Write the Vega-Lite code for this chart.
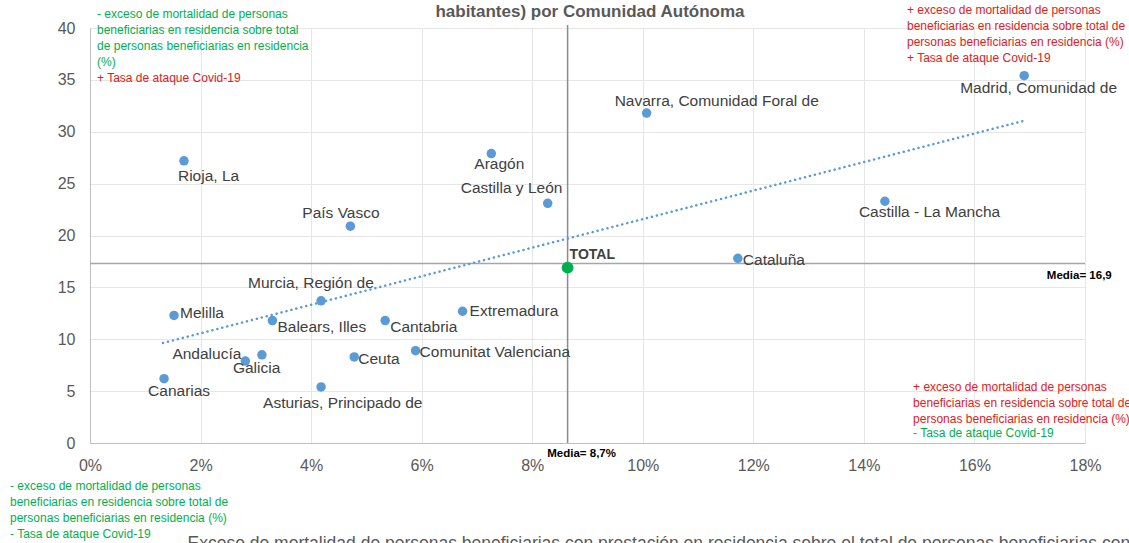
{
  "$schema": "https://vega.github.io/schema/vega-lite/v6.json",
  "autosize": "none",
  "width": 995,
  "height": 415,
  "padding": {"left": 90, "top": 28, "right": 44, "bottom": 100},
  "background": "white",
  "config": {
    "view": {"stroke": null},
    "font": "Liberation Sans",
    "axis": {
      "labelFont": "Liberation Sans",
      "labelFontSize": 16,
      "labelColor": "#595959",
      "gridColor": "#E6E6E6",
      "gridWidth": 1,
      "domainColor": "#BFBFBF",
      "ticks": false,
      "labelFlush": false
    }
  },
  "datasets": {
    "pts": [
      {"name": "Madrid, Comunidad de", "x": 0.169, "y": 35.4},
      {"name": "Navarra, Comunidad Foral de", "x": 0.1007, "y": 31.8},
      {"name": "Aragón", "x": 0.0726, "y": 27.9},
      {"name": "Rioja, La", "x": 0.017, "y": 27.2},
      {"name": "Castilla y León", "x": 0.0828, "y": 23.1},
      {"name": "Castilla - La Mancha", "x": 0.1438, "y": 23.3},
      {"name": "País Vasco", "x": 0.0471, "y": 20.9},
      {"name": "Cataluña", "x": 0.1172, "y": 17.8},
      {"name": "Murcia, Región de", "x": 0.0418, "y": 13.7},
      {"name": "Melilla", "x": 0.0152, "y": 12.3},
      {"name": "Extremadura", "x": 0.0674, "y": 12.7},
      {"name": "Balears, Illes", "x": 0.033, "y": 11.8},
      {"name": "Cantabria", "x": 0.0534, "y": 11.8},
      {"name": "Comunitat Valenciana", "x": 0.0589, "y": 8.9},
      {"name": "Andalucía", "x": 0.0281, "y": 7.9},
      {"name": "Galicia", "x": 0.0311, "y": 8.5},
      {"name": "Ceuta", "x": 0.0478, "y": 8.3},
      {"name": "Canarias", "x": 0.0134, "y": 6.2},
      {"name": "Asturias, Principado de", "x": 0.0418, "y": 5.4}
    ],
    "total": [
      {"name": "TOTAL", "x": 0.0864, "y": 16.9}
    ],
    "trend": [
      {"x": 0.0132, "y": 9.64},
      {"x": 0.1688, "y": 31.04}
    ],
    "one": [{}]
  },
  "layer": [
    {
      "data": {"name": "pts"},
      "mark": {"type": "point", "opacity": 0},
      "encoding": {
        "x": {
          "field": "x", "type": "quantitative",
          "scale": {"domain": [0, 0.18], "nice": false, "zero": false},
          "axis": {
            "values": [0, 0.02, 0.04, 0.06, 0.08, 0.1, 0.12, 0.14, 0.16, 0.18],
            "format": ".0%",
            "labelPadding": 14,
            "grid": true,
            "title": "Exceso de mortalidad de personas beneficiarias con prestación en residencia sobre el total de personas beneficiarias con prestación en residencia (%)",
            "titleFont": "Liberation Sans",
            "titleFontSize": 17.5,
            "titleFontWeight": "normal",
            "titleColor": "#595959",
            "titleAnchor": "start",
            "titleAlign": "left",
            "titleBaseline": "top",
            "titleX": 97,
            "titleY": 91
          }
        },
        "y": {
          "field": "y", "type": "quantitative",
          "scale": {"domain": [0, 40], "nice": false, "zero": false},
          "axis": {
            "values": [0, 5, 10, 15, 20, 25, 30, 35, 40],
            "labelPadding": 15,
            "grid": true,
            "title": null
          }
        }
      }
    },
    {
      "data": {"name": "one"},
      "mark": {"type": "rule", "color": "#A6A6A6", "strokeWidth": 1.5},
      "encoding": {
        "y": {"datum": 17.3, "type": "quantitative"}
      }
    },
    {
      "data": {"name": "one"},
      "mark": {"type": "rule", "color": "#8C8C8C", "strokeWidth": 1.5},
      "encoding": {
        "x": {"datum": 0.0864, "type": "quantitative"},
        "y": {"datum": 0, "type": "quantitative"},
        "y2": {"datum": 40.3}
      }
    },
    {
      "data": {"name": "trend"},
      "mark": {"type": "line", "color": "#5B9BD5", "strokeWidth": 2.5, "strokeDash": [0.1, 5], "strokeCap": "round"},
      "encoding": {
        "x": {"field": "x", "type": "quantitative"},
        "y": {"field": "y", "type": "quantitative"}
      }
    },
    {
      "data": {"name": "pts"},
      "mark": {"type": "circle", "color": "#5B9BD5", "opacity": 1, "size": 90},
      "encoding": {
        "x": {"field": "x", "type": "quantitative"},
        "y": {"field": "y", "type": "quantitative"}
      }
    },
    {
      "data": {"name": "total"},
      "mark": {"type": "circle", "color": "#00B050", "opacity": 1, "size": 140},
      "encoding": {
        "x": {"field": "x", "type": "quantitative"},
        "y": {"field": "y", "type": "quantitative"}
      }
    },
    {
      "data": {"name": "total"},
      "mark": {"type": "text", "align": "left", "baseline": "middle", "dx": 2, "dy": -13, "fontSize": 14, "fontWeight": "bold", "color": "#404040", "font": "Liberation Sans"},
      "encoding": {
        "x": {"field": "x", "type": "quantitative"},
        "y": {"field": "y", "type": "quantitative"},
        "text": {"field": "name"}
      }
    },
    {
      "data": {"name": "pts"},
      "encoding": {
        "x": {"field": "x", "type": "quantitative"},
        "y": {"field": "y", "type": "quantitative"},
        "text": {"field": "name"}
      },
      "layer": [
        {"transform": [{"filter": "datum.name === 'Madrid, Comunidad de'"}], "mark": {"type": "text", "align": "left", "baseline": "middle", "fontSize": 15.5, "color": "#404040", "dx": -64, "dy": 12}},
        {"transform": [{"filter": "datum.name === 'Navarra, Comunidad Foral de'"}], "mark": {"type": "text", "align": "left", "baseline": "middle", "fontSize": 15.5, "color": "#404040", "dx": -32, "dy": -12}},
        {"transform": [{"filter": "datum.name === 'Aragón'"}], "mark": {"type": "text", "align": "left", "baseline": "middle", "fontSize": 15.5, "color": "#404040", "dx": -17, "dy": 10}},
        {"transform": [{"filter": "datum.name === 'Rioja, La'"}], "mark": {"type": "text", "align": "left", "baseline": "middle", "fontSize": 15.5, "color": "#404040", "dx": -6, "dy": 15}},
        {"transform": [{"filter": "datum.name === 'Castilla y León'"}], "mark": {"type": "text", "align": "left", "baseline": "middle", "fontSize": 15.5, "color": "#404040", "dx": -87, "dy": -15}},
        {"transform": [{"filter": "datum.name === 'Castilla - La Mancha'"}], "mark": {"type": "text", "align": "left", "baseline": "middle", "fontSize": 15.5, "color": "#404040", "dx": -26, "dy": 11}},
        {"transform": [{"filter": "datum.name === 'País Vasco'"}], "mark": {"type": "text", "align": "left", "baseline": "middle", "fontSize": 15.5, "color": "#404040", "dx": -48, "dy": -13}},
        {"transform": [{"filter": "datum.name === 'Cataluña'"}], "mark": {"type": "text", "align": "left", "baseline": "middle", "fontSize": 15.5, "color": "#404040", "dx": 5, "dy": 2}},
        {"transform": [{"filter": "datum.name === 'Murcia, Región de'"}], "mark": {"type": "text", "align": "left", "baseline": "middle", "fontSize": 15.5, "color": "#404040", "dx": -73, "dy": -18}},
        {"transform": [{"filter": "datum.name === 'Melilla'"}], "mark": {"type": "text", "align": "left", "baseline": "middle", "fontSize": 15.5, "color": "#404040", "dx": 6, "dy": -2}},
        {"transform": [{"filter": "datum.name === 'Extremadura'"}], "mark": {"type": "text", "align": "left", "baseline": "middle", "fontSize": 15.5, "color": "#404040", "dx": 7, "dy": 0}},
        {"transform": [{"filter": "datum.name === 'Balears, Illes'"}], "mark": {"type": "text", "align": "left", "baseline": "middle", "fontSize": 15.5, "color": "#404040", "dx": 5, "dy": 6}},
        {"transform": [{"filter": "datum.name === 'Cantabria'"}], "mark": {"type": "text", "align": "left", "baseline": "middle", "fontSize": 15.5, "color": "#404040", "dx": 5, "dy": 6}},
        {"transform": [{"filter": "datum.name === 'Comunitat Valenciana'"}], "mark": {"type": "text", "align": "left", "baseline": "middle", "fontSize": 15.5, "color": "#404040", "dx": 4, "dy": 1}},
        {"transform": [{"filter": "datum.name === 'Andalucía'"}], "mark": {"type": "text", "align": "right", "baseline": "middle", "fontSize": 15.5, "color": "#404040", "dx": -4, "dy": -7}},
        {"transform": [{"filter": "datum.name === 'Galicia'"}], "mark": {"type": "text", "align": "left", "baseline": "middle", "fontSize": 15.5, "color": "#404040", "dx": -29, "dy": 13}},
        {"transform": [{"filter": "datum.name === 'Ceuta'"}], "mark": {"type": "text", "align": "left", "baseline": "middle", "fontSize": 15.5, "color": "#404040", "dx": 4, "dy": 2}},
        {"transform": [{"filter": "datum.name === 'Canarias'"}], "mark": {"type": "text", "align": "left", "baseline": "middle", "fontSize": 15.5, "color": "#404040", "dx": -16, "dy": 12}},
        {"transform": [{"filter": "datum.name === 'Asturias, Principado de'"}], "mark": {"type": "text", "align": "left", "baseline": "middle", "fontSize": 15.5, "color": "#404040", "dx": -58, "dy": 16}}
      ]
    },
    {
      "data": {"name": "one"},
      "mark": {"type": "text", "align": "center", "baseline": "middle", "fontSize": 17, "fontWeight": "bold", "color": "#595959"},
      "encoding": {
        "x": {"datum": 0.09045, "type": "quantitative"},
        "y": {"datum": 41.54, "type": "quantitative"},
        "text": {"value": "habitantes) por Comunidad Autónoma"}
      }
    },
    {
      "data": {"name": "one"},
      "mark": {"type": "text", "align": "center", "baseline": "middle", "fontSize": 11.5, "fontWeight": "bold", "color": "#000000", "dx": 14},
      "encoding": {
        "x": {"datum": 0.0864, "type": "quantitative"},
        "y": {"datum": -1.06, "type": "quantitative"},
        "text": {"value": "Media= 8,7%"}
      }
    },
    {
      "data": {"name": "one"},
      "mark": {"type": "text", "align": "left", "baseline": "middle", "fontSize": 11.5, "fontWeight": "bold", "color": "#000000"},
      "encoding": {
        "x": {"datum": 0.1731, "type": "quantitative"},
        "y": {"datum": 16.1, "type": "quantitative"},
        "text": {"value": "Media= 16,9"}
      }
    },
    {
      "data": {"name": "one"},
      "mark": {"type": "text", "align": "left", "baseline": "top", "fontSize": 12, "lineHeight": 16, "color": "#00B050"},
      "encoding": {
        "x": {"datum": 0.00127, "type": "quantitative"},
        "y": {"datum": 41.83, "type": "quantitative"},
        "text": {"value": ["- exceso de mortalidad  de personas", "beneficiarias  en  residencia  sobre total", "de personas beneficiarias  en  residencia", "(%)"]}
      }
    },
    {
      "data": {"name": "one"},
      "mark": {"type": "text", "align": "left", "baseline": "top", "fontSize": 12, "lineHeight": 16, "color": "#E0201B"},
      "encoding": {
        "x": {"datum": 0.00127, "type": "quantitative"},
        "y": {"datum": 35.66, "type": "quantitative"},
        "text": {"value": "+ Tasa de ataque Covid-19"}
      }
    },
    {
      "data": {"name": "one"},
      "mark": {"type": "text", "align": "left", "baseline": "top", "fontSize": 12, "lineHeight": 16, "color": "#E0201B"},
      "encoding": {
        "x": {"datum": 0.1478, "type": "quantitative"},
        "y": {"datum": 42.2, "type": "quantitative"},
        "text": {"value": ["+ exceso de mortalidad  de personas", "beneficiarias  en  residencia  sobre total de", "personas  beneficiarias  en residencia  (%)", "+ Tasa de ataque Covid-19"]}
      }
    },
    {
      "data": {"name": "one"},
      "mark": {"type": "text", "align": "left", "baseline": "top", "fontSize": 12, "lineHeight": 16, "color": "#E0201B"},
      "encoding": {
        "x": {"datum": 0.1489, "type": "quantitative"},
        "y": {"datum": 5.9, "type": "quantitative"},
        "text": {"value": ["+ exceso de mortalidad  de personas", "beneficiarias  en  residencia  sobre total de", "personas  beneficiarias  en residencia  (%)"]}
      }
    },
    {
      "data": {"name": "one"},
      "mark": {"type": "text", "align": "left", "baseline": "top", "fontSize": 12, "lineHeight": 16, "color": "#00B050"},
      "encoding": {
        "x": {"datum": 0.1489, "type": "quantitative"},
        "y": {"datum": 1.4, "type": "quantitative"},
        "text": {"value": "- Tasa de ataque  Covid-19"}
      }
    },
    {
      "data": {"name": "one"},
      "mark": {"type": "text", "align": "left", "baseline": "top", "fontSize": 12, "lineHeight": 16, "color": "#00B050"},
      "encoding": {
        "x": {"datum": -0.01447, "type": "quantitative"},
        "y": {"datum": -3.66, "type": "quantitative"},
        "text": {"value": ["- exceso de mortalidad  de personas", "beneficiarias  en  residencia  sobre total de", "personas  beneficiarias  en residencia  (%)", "- Tasa de ataque  Covid-19"]}
      }
    }
  ]
}
